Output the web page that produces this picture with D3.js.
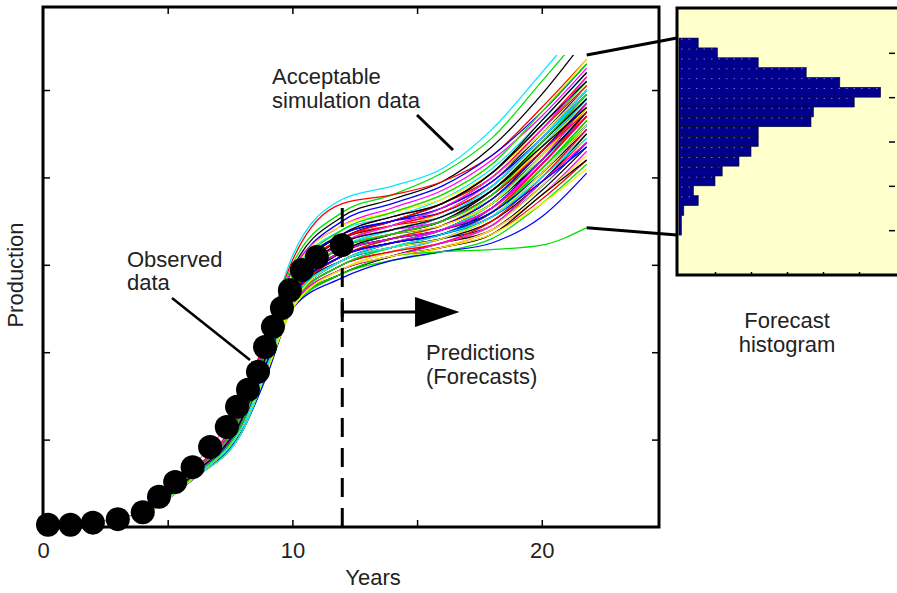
<!DOCTYPE html>
<html>
<head>
<meta charset="utf-8">
<script src="https://cdn.jsdelivr.net/npm/d3@7"></script>
<style>
  body { margin: 0; background: #fff; }
  text { font-family: "Liberation Sans", Arial, Helvetica, sans-serif; fill: #222; }
</style>
</head>
<body>
<div id="chart"></div>
<script>
/* Observed production (big black dots) */
const obsYears  = [0.2, 1.1, 2.0, 3.0, 4.0, 4.65, 5.3, 6.0, 6.7, 7.37, 7.78, 8.22, 8.62, 8.9, 9.22, 9.58, 9.9, 10.38, 10.98, 11.98];
const obsValues = [0.5, 0.5, 1.0, 1.8, 3.4, 6.9, 10.3, 13.7, 18.3, 22.9, 27.5, 31.4, 35.5, 41.2, 45.8, 50.1, 54.2, 58.8, 61.8, 64.5];

/* Acceptable simulation runs, read at these years */
const simYears = [4, 6, 8, 9, 10, 12, 14, 16, 18, 20, 21.8];
const simRuns = [
  [3.0, 12.5, 28, 45, 62, 75, 78, 82, 91, 104, 116],
  [3.1, 12.3, 27, 44, 60, 72, 76, 81, 89, 102, 114],
  [2.8, 12.0, 27, 43, 59, 71, 75, 79, 87, 99, 112],
  [3.0, 12.6, 28, 45, 61, 74, 76, 79, 85, 96, 107],
  [2.6, 11.8, 26, 42, 58, 70, 74, 78, 85, 95, 106],
  [2.9, 12.2, 27, 43, 59, 69, 73, 77, 84, 94, 105],
  [2.7, 11.9, 26, 41, 57, 68, 72, 76, 83, 95, 107],
  [2.8, 12.1, 26, 42, 58, 68, 71, 75, 82, 93, 104],
  [2.5, 11.5, 25, 40, 56, 67, 71, 74, 81, 92, 103],
  [2.9, 12.0, 26, 41, 57, 67, 70, 74, 80, 91, 102],
  [2.6, 11.7, 25, 40, 55, 66, 70, 73, 80, 90, 101],
  [2.8, 11.9, 25, 40, 56, 66, 69, 73, 79, 90, 100],
  [2.7, 11.6, 24, 39, 55, 65, 69, 72, 79, 89, 100],
  [2.4, 11.3, 24, 38, 54, 65, 68, 72, 78, 88, 99],
  [3.0, 12.2, 26, 41, 56, 66, 69, 71, 77, 88, 99],
  [2.6, 11.5, 24, 39, 54, 64, 68, 71, 77, 87, 98],
  [2.5, 11.4, 24, 38, 53, 64, 67, 70, 77, 87, 98],
  [2.8, 11.8, 25, 40, 55, 65, 68, 70, 76, 86, 97],
  [2.7, 11.6, 24, 38, 53, 63, 67, 70, 76, 86, 97],
  [2.3, 11.1, 23, 37, 52, 63, 67, 71, 77, 87, 97],
  [2.9, 12.0, 25, 39, 54, 64, 67, 69, 75, 85, 96],
  [2.6, 11.5, 24, 38, 53, 62, 66, 69, 75, 85, 96],
  [2.5, 11.3, 23, 37, 52, 62, 66, 69, 74, 84, 95],
  [2.7, 11.7, 24, 39, 54, 63, 66, 68, 74, 84, 95],
  [2.4, 11.2, 23, 37, 51, 61, 65, 68, 74, 84, 94],
  [2.8, 11.8, 25, 39, 54, 64, 67, 70, 75, 84, 94],
  [2.6, 11.4, 24, 38, 52, 62, 65, 68, 73, 83, 94],
  [2.5, 11.3, 23, 37, 52, 61, 65, 68, 73, 82, 93],
  [2.7, 11.6, 24, 38, 53, 62, 65, 67, 72, 82, 93],
  [2.4, 11.0, 22, 36, 51, 60, 64, 67, 72, 82, 92],
  [2.6, 11.5, 24, 38, 52, 61, 64, 66, 71, 81, 92],
  [2.9, 11.9, 25, 39, 54, 63, 66, 68, 72, 81, 91],
  [2.5, 11.2, 23, 37, 51, 60, 63, 66, 71, 80, 91],
  [2.7, 11.6, 24, 38, 52, 61, 64, 66, 70, 80, 90],
  [2.3, 10.9, 22, 36, 50, 59, 63, 66, 71, 80, 90],
  [2.6, 11.4, 23, 37, 51, 60, 63, 65, 69, 79, 89],
  [2.5, 11.3, 23, 36, 51, 59, 62, 65, 69, 78, 88],
  [2.8, 11.7, 24, 38, 53, 61, 64, 66, 69, 78, 88],
  [2.4, 11.0, 22, 36, 50, 58, 62, 65, 68, 77, 87],
  [2.6, 11.4, 23, 37, 51, 59, 62, 64, 68, 76, 86],
  [2.5, 11.2, 23, 36, 50, 58, 61, 64, 68, 76, 85],
  [2.7, 11.5, 24, 37, 51, 59, 62, 64, 67, 75, 84],
  [2.4, 11.0, 22, 35, 50, 58, 61, 63, 66, 74, 83],
  [2.5, 11.0, 22.5, 36, 51, 58, 62, 64, 67, 76, 84],
  [2.4, 10.8, 22, 35, 50, 57, 61, 63, 65, 71, 81],
  [2.5, 11.0, 23, 36, 51, 58, 62, 63, 63.5, 64.5, 68.5],
  [2.8, 12.1, 26, 42, 58, 69, 72, 75, 81, 91, 101],
  [2.6, 11.6, 25, 40, 55, 66, 70, 74, 81, 92, 102],
  [2.7, 11.8, 25, 40, 56, 67, 70, 72, 78, 89, 100],
  [2.5, 11.4, 24, 39, 54, 65, 69, 72, 78, 89, 99],
  [2.9, 12.0, 26, 41, 56, 65, 68, 71, 77, 88, 98],
  [2.6, 11.5, 24, 38, 53, 63, 67, 70, 76, 87, 98],
  [2.4, 11.2, 23, 37, 52, 63, 66, 69, 75, 86, 97],
  [2.7, 11.7, 25, 39, 54, 64, 67, 69, 74, 85, 96],
  [2.5, 11.3, 23, 37, 52, 61, 65, 68, 74, 85, 96],
  [2.8, 11.8, 25, 39, 54, 63, 66, 68, 73, 83, 95],
  [2.6, 11.4, 23, 37, 52, 62, 65, 67, 73, 84, 95],
  [2.4, 11.1, 23, 36, 51, 61, 64, 67, 72, 83, 94],
  [2.7, 11.6, 24, 38, 53, 62, 65, 67, 71, 82, 93],
  [2.5, 11.2, 23, 37, 51, 60, 64, 66, 71, 81, 92],
  [2.8, 11.8, 24, 38, 53, 61, 64, 66, 70, 79, 90],
  [2.3, 10.9, 22, 36, 50, 59, 63, 65, 69, 78, 89],
  [2.6, 11.4, 23, 37, 51, 60, 63, 65, 70, 80, 91],
  [2.5, 11.3, 23, 36, 51, 59, 62, 65, 69, 79, 88],
  [2.7, 11.8, 25, 40, 56, 66, 70, 74, 80, 91, 101],
  [2.6, 11.5, 24, 39, 55, 65, 69, 73, 80, 90, 100],
  [2.8, 12.0, 26, 41, 57, 67, 70, 73, 79, 89, 99],
  [2.5, 11.3, 24, 38, 53, 64, 68, 71, 78, 89, 99],
  [2.7, 11.7, 25, 40, 55, 65, 68, 71, 77, 88, 98],
  [2.4, 11.1, 23, 37, 52, 63, 67, 70, 77, 88, 98],
  [2.9, 12.1, 26, 41, 56, 65, 68, 70, 76, 87, 97],
  [2.6, 11.5, 24, 38, 53, 63, 66, 69, 76, 87, 97],
  [2.5, 11.2, 23, 37, 52, 62, 66, 69, 75, 86, 96],
  [2.8, 11.9, 25, 40, 55, 64, 67, 69, 75, 86, 97],
  [2.6, 11.4, 24, 38, 53, 63, 66, 68, 74, 85, 96],
  [2.4, 11.0, 22, 36, 51, 61, 65, 68, 74, 85, 95],
  [2.7, 11.6, 24, 39, 54, 63, 66, 68, 73, 84, 95],
  [2.5, 11.3, 23, 37, 52, 62, 65, 68, 73, 83, 94],
  [2.9, 12.0, 25, 40, 55, 64, 67, 69, 74, 85, 96],
  [2.6, 11.5, 24, 38, 52, 62, 65, 67, 72, 83, 94],
  [2.4, 11.1, 23, 36, 51, 60, 64, 67, 72, 82, 93],
  [2.7, 11.6, 24, 38, 53, 62, 65, 67, 72, 81, 92],
  [2.5, 11.2, 23, 37, 51, 61, 64, 66, 71, 81, 92],
  [2.8, 11.8, 25, 39, 54, 63, 66, 68, 73, 84, 97],
  [2.6, 11.6, 24, 39, 54, 64, 68, 71, 78, 89, 100],
  [2.7, 11.8, 25, 40, 56, 67, 71, 74, 81, 93, 104],
  [2.8, 12.0, 26, 41, 57, 68, 72, 76, 83, 95, 106],
  [2.5, 11.4, 24, 38, 53, 64, 67, 70, 76, 86, 95],
  [2.6, 11.5, 24, 38, 53, 62, 65, 67, 71, 79, 87],
  [2.4, 11.1, 23, 36, 50, 59, 62, 64, 67, 74, 82],
  [2.7, 11.7, 25, 40, 55, 65, 69, 73, 80, 91, 103],
  [2.5, 11.3, 23, 37, 52, 61, 64, 67, 71, 80, 89],
  [2.6, 11.5, 24, 39, 54, 64, 67, 70, 76, 88, 99],
  [2.8, 11.9, 25, 40, 55, 65, 68, 71, 77, 87, 96]
];
// one colour code per run (b g r c m y k)
const simColors = ["c","g","k","r","b","m","y","c","r","g","b","k","m","y","r","g",
  "b","c","k","m","y","r","g","b","k","c","m","y","r","g","b","k",
  "m","y","c","r","g","b","k","m","y","r","g","k","b","g",
  "y","k","b","r","m","c","g","y","k","r","b","m","g","c","k","y","r","m",
  "r","y","b","c","g","k","m","y","r","b","g","c","k","m","y","r",
  "g","b","y","m","c","k","g","r","b","y","m","c","g","k"];

/* Forecast histogram: bin tops (bin width 2) and counts */
const histBinTops = [108, 106, 104, 102, 100, 98, 96, 94, 92, 90, 88, 86, 84, 82, 80, 78, 76, 74, 72, 70];
const histCounts  = [8, 16, 33, 53, 67, 84, 73, 56, 55, 33, 33, 30, 25, 18, 15, 6, 8, 2, 1, 1];

const xTickLabels = [0, 10, 20];
const forecastStart = 12;

const width = 897, height = 593;

const svg = d3.select("#chart")
  .append("svg")
    .attr("width", width)
    .attr("height", height)
    .attr("viewBox", [0, 0, width, height]);

/* Scales */
const x = d3.scaleLinear().domain([0, 24.7]).range([43, 659]);
const y = d3.scaleLinear().domain([0, 119]).range([527, 7]);

const colorOf = d3.scaleOrdinal()
  .domain(["b", "g", "r", "c", "m", "y", "k"])
  .range(["#0000ff", "#00e000", "#ff0000", "#00e8ff", "#ff00ff", "#ffee00", "#000000"]);

/* Ticks (inside the box) */
const tickStyle = g => {
  g.select(".domain").remove();
  g.selectAll(".tick line").attr("stroke", "#000").attr("stroke-width", 1.5);
};
svg.append("g").attr("transform", `translate(0,${y(0)})`)
  .call(d3.axisBottom(x).tickValues([5, 10, 15, 20]).tickSize(-7).tickFormat(""))
  .call(tickStyle);
svg.append("g").attr("transform", `translate(0,${y(119)})`)
  .call(d3.axisTop(x).tickValues([5, 10, 15, 20]).tickSize(-7).tickFormat(""))
  .call(tickStyle);
svg.append("g").attr("transform", `translate(${x(0)},0)`)
  .call(d3.axisLeft(y).tickValues([20, 40, 60, 80, 100]).tickSize(-7).tickFormat(""))
  .call(tickStyle);
svg.append("g").attr("transform", `translate(${x(24.7)},0)`)
  .call(d3.axisRight(y).tickValues([20, 40, 60, 80, 100]).tickSize(-7).tickFormat(""))
  .call(tickStyle);

// tick labels
svg.append("g").attr("transform", `translate(0,${y(0)})`)
  .call(d3.axisBottom(x).tickValues(xTickLabels).tickSize(0).tickPadding(15))
  .call(g => g.select(".domain").remove())
  .call(g => g.selectAll("text").attr("font-size", 22).attr("fill", "#222")
    .style("font-family", "'Liberation Sans', Arial, sans-serif"));

/* Box */
svg.append("rect")
  .attr("x", x(0)).attr("y", y(119))
  .attr("width", x(24.7) - x(0)).attr("height", y(0) - y(119))
  .attr("fill", "none").attr("stroke", "#000").attr("stroke-width", 3);

/* Simulation runs, clipped at the top value */
svg.append("clipPath").attr("id", "simclip")
  .append("rect")
    .attr("x", x(0)).attr("y", y(108))
    .attr("width", x(24.7) - x(0)).attr("height", y(0) - y(108));

const simLine = d3.line()
  .x((d, i) => x(simYears[i]))
  .y(d => y(d))
  .curve(d3.curveMonotoneX);

svg.append("g")
  .attr("clip-path", "url(#simclip)")
  .selectAll("path")
  .data(simRuns)
  .join("path")
    .attr("d", simLine)
    .attr("fill", "none")
    .attr("stroke", (d, i) => colorOf(simColors[i % simColors.length]))
    .attr("stroke-width", 1.25);

/* Observed data: thin magenta trace + dots */
const obs = obsYears.map((t, i) => ({t, v: obsValues[i]}));
svg.append("path")
  .datum(obs)
  .attr("d", d3.line().x(d => x(d.t)).y(d => y(d.v)))
  .attr("fill", "none").attr("stroke", "#ff00ff").attr("stroke-width", 1);

// forecast start (dashed)
svg.append("line")
  .attr("x1", x(forecastStart)).attr("x2", x(forecastStart))
  .attr("y1", y(0)).attr("y2", y(75.5))
  .attr("stroke", "#000").attr("stroke-width", 3)
  .attr("stroke-dasharray", "19,11");

svg.append("g")
  .selectAll("circle")
  .data(obs)
  .join("circle")
    .attr("cx", d => x(d.t))
    .attr("cy", d => y(d.v))
    .attr("r", 12)
    .attr("fill", "#000");

/* Prediction arrow */
const arrowY = 312;
svg.append("line")
  .attr("x1", x(forecastStart)).attr("x2", x(15))
  .attr("y1", arrowY).attr("y2", arrowY)
  .attr("stroke", "#000").attr("stroke-width", 3);
svg.append("line")
  .attr("x1", x(forecastStart)).attr("x2", x(forecastStart))
  .attr("y1", arrowY - 10).attr("y2", arrowY + 10)
  .attr("stroke", "#000").attr("stroke-width", 3);
svg.append("path")
  .attr("d", `M${x(15) - 2},${arrowY - 15}L${x(16.7)},${arrowY}L${x(15) - 2},${arrowY + 15}Z`)
  .attr("fill", "#000");

/* Annotations */
const addLines = (lines, ax, ay, dy, anchor = "start") => {
  const t = svg.append("text")
    .attr("x", ax).attr("y", ay)
    .attr("font-size", 22)
    .attr("text-anchor", anchor);
  lines.forEach((s, i) => t.append("tspan").attr("x", ax).attr("dy", i ? dy : 0).text(s));
};
addLines(["Acceptable", "simulation data"], 272, 84, 24);
addLines(["Observed", "data"], 127, 267, 23);
addLines(["Predictions", "(Forecasts)"], 426, 360, 24);
addLines(["Forecast", "histogram"], 787, 328, 24, "middle");

svg.append("line")
  .attr("x1", 417).attr("y1", 115).attr("x2", 453).attr("y2", 150)
  .attr("stroke", "#000").attr("stroke-width", 3);
svg.append("line")
  .attr("x1", 172).attr("y1", 298).attr("x2", 250).attr("y2", 360)
  .attr("stroke", "#000").attr("stroke-width", 2.5);

// axis titles
svg.append("text")
  .attr("x", 373).attr("y", 585)
  .attr("font-size", 22).attr("text-anchor", "middle")
  .text("Years");
svg.append("text")
  .attr("transform", `translate(23,${(y(0) + y(119)) / 2 + 8}) rotate(-90)`)
  .attr("font-size", 22).attr("text-anchor", "middle")
  .text("Production");

/* Forecast histogram panel */
const hx = d3.scaleLinear().domain([0, 90]).range([679, 895]);
const hy = d3.scaleLinear().domain([59.9, 114.1]).range([275, 8]);

svg.append("rect")
  .attr("x", 677).attr("y", hy(114.1))
  .attr("width", 222).attr("height", hy(59.9) - hy(114.1))
  .attr("fill", "#ffffcc");

svg.append("g")
  .selectAll("rect")
  .data(histCounts)
  .join("rect")
    .attr("x", hx(0))
    .attr("y", (d, i) => hy(histBinTops[i]))
    .attr("width", d => hx(d) - hx(0))
    .attr("height", (d, i) => hy(histBinTops[i] - 2) - hy(histBinTops[i]))
    .attr("fill", "#00008c")
    .attr("stroke", "#000033")
    .attr("stroke-width", 0.6);

// faint dotted texture on bar tops
svg.append("g")
  .selectAll("line")
  .data(histCounts)
  .join("line")
    .attr("x1", hx(0) + 2)
    .attr("x2", d => Math.max(hx(0) + 2, hx(d) - 3))
    .attr("y1", (d, i) => hy(histBinTops[i]) + 1.2)
    .attr("y2", (d, i) => hy(histBinTops[i]) + 1.2)
    .attr("stroke", "#c8ccff").attr("stroke-width", 0.8)
    .attr("stroke-opacity", 0.7)
    .attr("stroke-dasharray", "1.5,6");

svg.append("g").attr("transform", `translate(${hx(90)},0)`)
  .call(d3.axisRight(hy).tickValues([105, 96, 87, 78, 69]).tickSize(-6).tickFormat(""))
  .call(tickStyle);
svg.append("g").attr("transform", `translate(0,${hy(59.9)})`)
  .call(d3.axisBottom(hx).tickValues([15, 30, 45, 60, 75]).tickSize(-3).tickFormat(""))
  .call(tickStyle);

svg.append("rect")
  .attr("x", 677).attr("y", hy(114.1))
  .attr("width", 222).attr("height", hy(59.9) - hy(114.1))
  .attr("fill", "none").attr("stroke", "#000").attr("stroke-width", 3);

/* Connectors from run ends to histogram */
svg.append("line")
  .attr("x1", x(21.8)).attr("y1", y(108))
  .attr("x2", 677).attr("y2", hy(108))
  .attr("stroke", "#000").attr("stroke-width", 3);
svg.append("line")
  .attr("x1", x(21.8)).attr("y1", y(68.5))
  .attr("x2", 677).attr("y2", hy(68))
  .attr("stroke", "#000").attr("stroke-width", 3);
</script>
</body>
</html>
